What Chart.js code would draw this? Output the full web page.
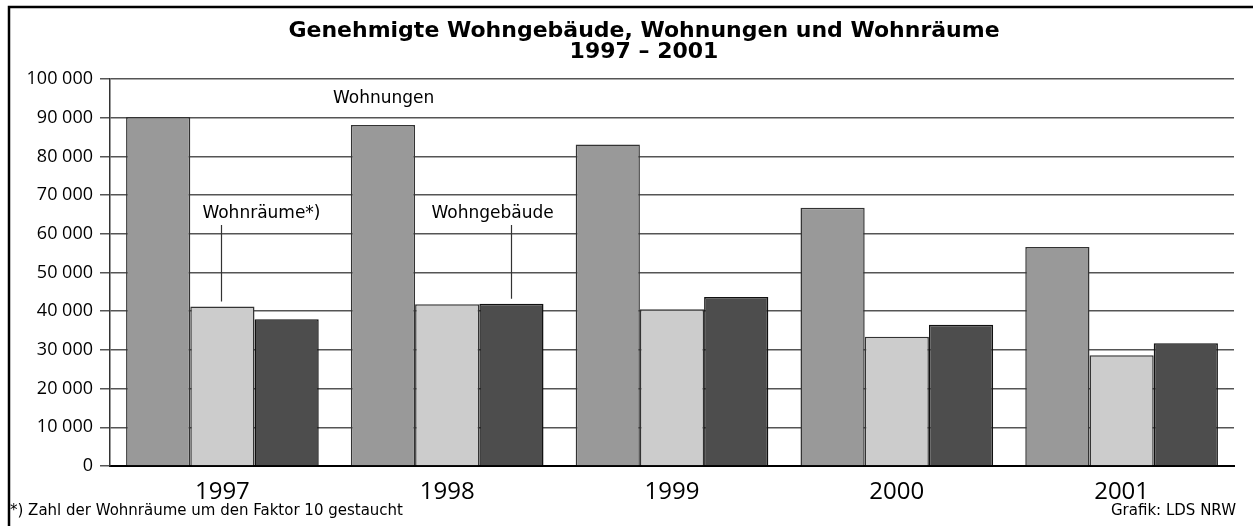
<!DOCTYPE html>
<html>
<head>
<meta charset="utf-8">
<script src="https://cdn.jsdelivr.net/npm/chart.js@4/dist/chart.umd.min.js"></script>
<style>
  html, body { margin: 0; padding: 0; background: #fff; }
  #wrap { width: 1253px; height: 526px; }
</style>
</head>
<body>
<div id="wrap"><canvas id="chart" width="1253" height="526"></canvas></div>
<script>
const years = ['1997', '1998', '1999', '2000', '2001'];
const wohnungen = [90200, 88100, 83100, 66700, 56600];
const wohnraeume = [41200, 41800, 40500, 33400, 28600]; // um Faktor 10 gestaucht
const wohngebaeude = [37900, 41900, 43700, 36500, 31700];
const yTicks = [0, 10000, 20000, 30000, 40000, 50000, 60000, 70000, 80000, 90000, 100000];

const FONT = '"Open Sans", "DejaVu Sans", sans-serif';
const WIDE = '"DejaVu Sans", "Open Sans", sans-serif';

function fmt(v) {
  return String(v).replace(/\B(?=(\d{3})+(?!\d))/g, ' ');
}

const extras = {
  id: 'extras',
  afterDraw(chart) {
    const ctx = chart.ctx;
    ctx.save();
    // frame
    ctx.strokeStyle = '#000';
    ctx.lineWidth = 2.5;
    ctx.beginPath();
    ctx.moveTo(9, 526);
    ctx.lineTo(9, 7);
    ctx.lineTo(1253, 7);
    ctx.stroke();

    // title
    ctx.fillStyle = '#000';
    ctx.textAlign = 'center';
    ctx.textBaseline = 'middle';
    ctx.font = 'bold 22px ' + WIDE;
    ctx.fillText('Genehmigte Wohngebäude, Wohnungen und Wohnräume', 644, 31);
    ctx.fillText('1997 – 2001', 644, 52);

    // annotations
    ctx.font = '17px ' + WIDE;
    ctx.textAlign = 'left';
    ctx.fillText('Wohnungen', 333, 99);

    const raum = chart.getDatasetMeta(1).data[0];
    const geb = chart.getDatasetMeta(2).data[1];
    ctx.fillText('Wohnräume*)', raum.x - 20, 214);
    ctx.fillText('Wohngebäude', geb.x - 80, 214);

    ctx.strokeStyle = '#333';
    ctx.lineWidth = 1.2;
    ctx.beginPath();
    ctx.moveTo(Math.round(raum.x) - 0.5, 225);
    ctx.lineTo(Math.round(raum.x) - 0.5, raum.y - 5);
    ctx.moveTo(Math.round(geb.x) + 0.5, 225);
    ctx.lineTo(Math.round(geb.x) + 0.5, geb.y - 5);
    ctx.stroke();

    // footnotes
    ctx.font = '15px ' + WIDE;
    ctx.textAlign = 'left';
    ctx.fillText('*) Zahl der Wohnräume um den Faktor 10 gestaucht', 10, 511);
    ctx.textAlign = 'right';
    ctx.fillText('Grafik: LDS NRW', 1236, 511);
    ctx.restore();
  }
};

new Chart(document.getElementById('chart'), {
  type: 'bar',
  data: {
    labels: years,
    datasets: [
      { label: 'Wohnungen', data: wohnungen, backgroundColor: '#999999', borderColor: '#333', borderWidth: 1.5 },
      { label: 'Wohnräume*)', data: wohnraeume, backgroundColor: '#cccccc', borderColor: '#333', borderWidth: 1.5 },
      { label: 'Wohngebäude', data: wohngebaeude, backgroundColor: '#4d4d4d', borderColor: '#111', borderWidth: 1.5 }
    ]
  },
  options: {
    responsive: false,
    animation: false,
    layout: { padding: { left: 0, right: 19, top: 79, bottom: 0 } },
    datasets: { bar: { categoryPercentage: 0.857, barPercentage: 1.0 } },
    plugins: {
      legend: { display: false },
      title: { display: false },
      tooltip: { enabled: false }
    },
    scales: {
      x: {
        grid: { display: false, drawTicks: false },
        border: { color: '#000', width: 2 },
        ticks: { color: '#000', font: { family: FONT, size: 24 }, padding: 12 },
        afterFit(scale) { scale.height = 60; }
      },
      y: {
        min: 0,
        max: 100000,
        afterBuildTicks(scale) { scale.ticks = yTicks.map(v => ({ value: v })); },
        grid: { color: '#555', lineWidth: 1.5, tickLength: 10, drawTicks: true },
        border: { color: '#333', width: 1.5 },
        ticks: {
          color: '#000',
          font: { family: FONT, size: 18 },
          padding: 7,
          callback: v => fmt(v)
        },
        afterFit(scale) { scale.width = 110; }
      }
    }
  },
  plugins: [extras]
});
</script>
</body>
</html>
